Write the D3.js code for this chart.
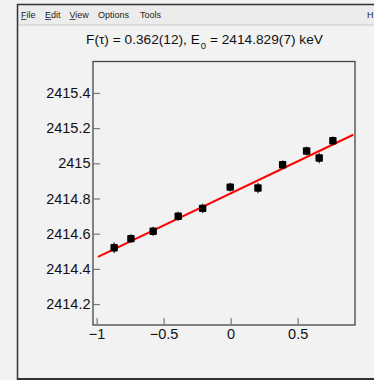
<!DOCTYPE html>
<html><head><meta charset="utf-8">
<script src="https://cdn.jsdelivr.net/npm/d3@7/dist/d3.min.js"></script>
<style>
html,body{margin:0;padding:0;background:#f2f2f2;}
svg{display:block;font-family:"Liberation Sans",Arial,sans-serif;}
</style></head>
<body>
<script>
// ---- data ----
const cosTheta = [-0.869, -0.744, -0.578, -0.391, -0.209, -0.003, 0.204, 0.388, 0.567, 0.661, 0.763];
const energy   = [2414.520, 2414.572, 2414.614, 2414.699, 2414.744, 2414.865, 2414.860, 2414.992, 2415.070, 2415.030, 2415.128];
const energyErr= [0.030, 0.025, 0.025, 0.026, 0.027, 0.025, 0.030, 0.025, 0.025, 0.030, 0.025];
const fitRange = [-0.99, 0.915];
const fitIntercept = 2414.829;
const fitSlope = 0.3645;
const xTicks = [-1, -0.5, 0, 0.5];
const xTickLabels = ["\u22121", "\u22120.5", "0", "0.5"];
const yTicks = [2414.2, 2414.4, 2414.6, 2414.8, 2415.0, 2415.2, 2415.4];
const yTickLabels = ["2414.2", "2414.4", "2414.6", "2414.8", "2415", "2415.2", "2415.4"];
const menuItems = ["File", "Edit", "View", "Options", "Tools", "H"];
const menuX = [21, 45, 69.5, 98, 140, 367];
const menuUnderline = [true, true, true, false, false, false];
const titleText = ["F(\u03c4) = 0.362(12), E", "0", " = 2414.829(7) keV"];

const W = 374, H = 380;
const svg = d3.select("body").append("svg").attr("width", W).attr("height", H);

// window chrome
svg.append("rect").attr("x", 17).attr("y", 4).attr("width", W - 17).attr("height", 21).attr("fill", "#ececec");
svg.append("line").attr("x1", 17).attr("x2", W).attr("y1", 25).attr("y2", 25).attr("stroke", "#c8c8c8");
svg.append("line").attr("x1", 17).attr("x2", W).attr("y1", 4.5).attr("y2", 4.5).attr("stroke", "#333").attr("stroke-width", 1.5);
svg.append("line").attr("x1", 17.5).attr("x2", 17.5).attr("y1", 4).attr("y2", H).attr("stroke", "#333").attr("stroke-width", 1.5);
svg.append("line").attr("x1", 17).attr("x2", W).attr("y1", 379).attr("y2", 379).attr("stroke", "#333").attr("stroke-width", 2);

const menu = svg.append("g").attr("font-size", 9).attr("fill", "#222");
menuItems.forEach((m, i) => {
  menu.append("text").attr("x", menuX[i]).attr("y", 18).text(m);
  if (menuUnderline[i]) {
    const first = menu.append("text").attr("x", menuX[i]).attr("y", 18).attr("opacity", 0).text(m[0]);
    const w = first.node().getComputedTextLength();
    first.remove();
    menu.append("line").attr("x1", menuX[i]).attr("x2", menuX[i] + w).attr("y1", 19.5).attr("y2", 19.5).attr("stroke", "#222").attr("stroke-width", 0.8);
  }
});

// title
const title = svg.append("text").attr("x", 204.5).attr("y", 44.3).attr("text-anchor", "middle").attr("font-size", 13.7).attr("fill", "#111");
title.append("tspan").text(titleText[0]);
title.append("tspan").attr("font-size", 9.5).attr("dy", 4.5).attr("dx", 1).text(titleText[1]);
title.append("tspan").attr("dy", -4.5).text(titleText[2]);

// scales
const x = d3.scaleLinear().domain([-1.027, 0.928]).range([93, 355]);
const y = d3.scaleLinear().domain([2414.081, 2415.576]).range([325, 62]);

// frame
svg.append("rect").attr("x", 93).attr("y", 61.5).attr("width", 262).attr("height", 263.5)
  .attr("fill", "none").attr("stroke", "#444").attr("stroke-width", 1.3);

const xAxis = svg.append("g").attr("transform", "translate(0,325)")
  .call(d3.axisBottom(x).tickValues(xTicks).tickFormat((d, i) => xTickLabels[i]).tickSize(-7).tickPadding(4));
const yAxis = svg.append("g").attr("transform", "translate(93,0)")
  .call(d3.axisLeft(y).tickValues(yTicks).tickFormat((d, i) => yTickLabels[i]).tickSize(-7).tickPadding(2.5));
[xAxis, yAxis].forEach(a => {
  a.select(".domain").remove();
  a.selectAll(".tick line").attr("stroke", "#777").attr("stroke-width", 1.2);
  a.selectAll(".tick text").attr("font-size", 14.5).attr("fill", "#111").attr("font-family", "'Liberation Sans',Arial,sans-serif");
});

// fit line
svg.append("line")
  .attr("x1", x(fitRange[0])).attr("y1", y(fitIntercept + fitSlope * fitRange[0]))
  .attr("x2", x(fitRange[1])).attr("y2", y(fitIntercept + fitSlope * fitRange[1]))
  .attr("stroke", "#ff0000").attr("stroke-width", 2);

// points
const pts = cosTheta.map((c, i) => ({ c, e: energy[i], err: energyErr[i] }));
const g = svg.append("g");
g.selectAll("line.err").data(pts).join("line").attr("class", "err")
  .attr("x1", d => x(d.c)).attr("x2", d => x(d.c))
  .attr("y1", d => y(d.e - d.err)).attr("y2", d => y(d.e + d.err))
  .attr("stroke", "#333").attr("stroke-width", 1.3);
g.selectAll("rect.m").data(pts).join("rect").attr("class", "m")
  .attr("x", d => x(d.c) - 3.7).attr("y", d => y(d.e) - 3.7)
  .attr("width", 7.4).attr("height", 7.4).attr("rx", 1).attr("fill", "#000");
</script>
</body></html>
